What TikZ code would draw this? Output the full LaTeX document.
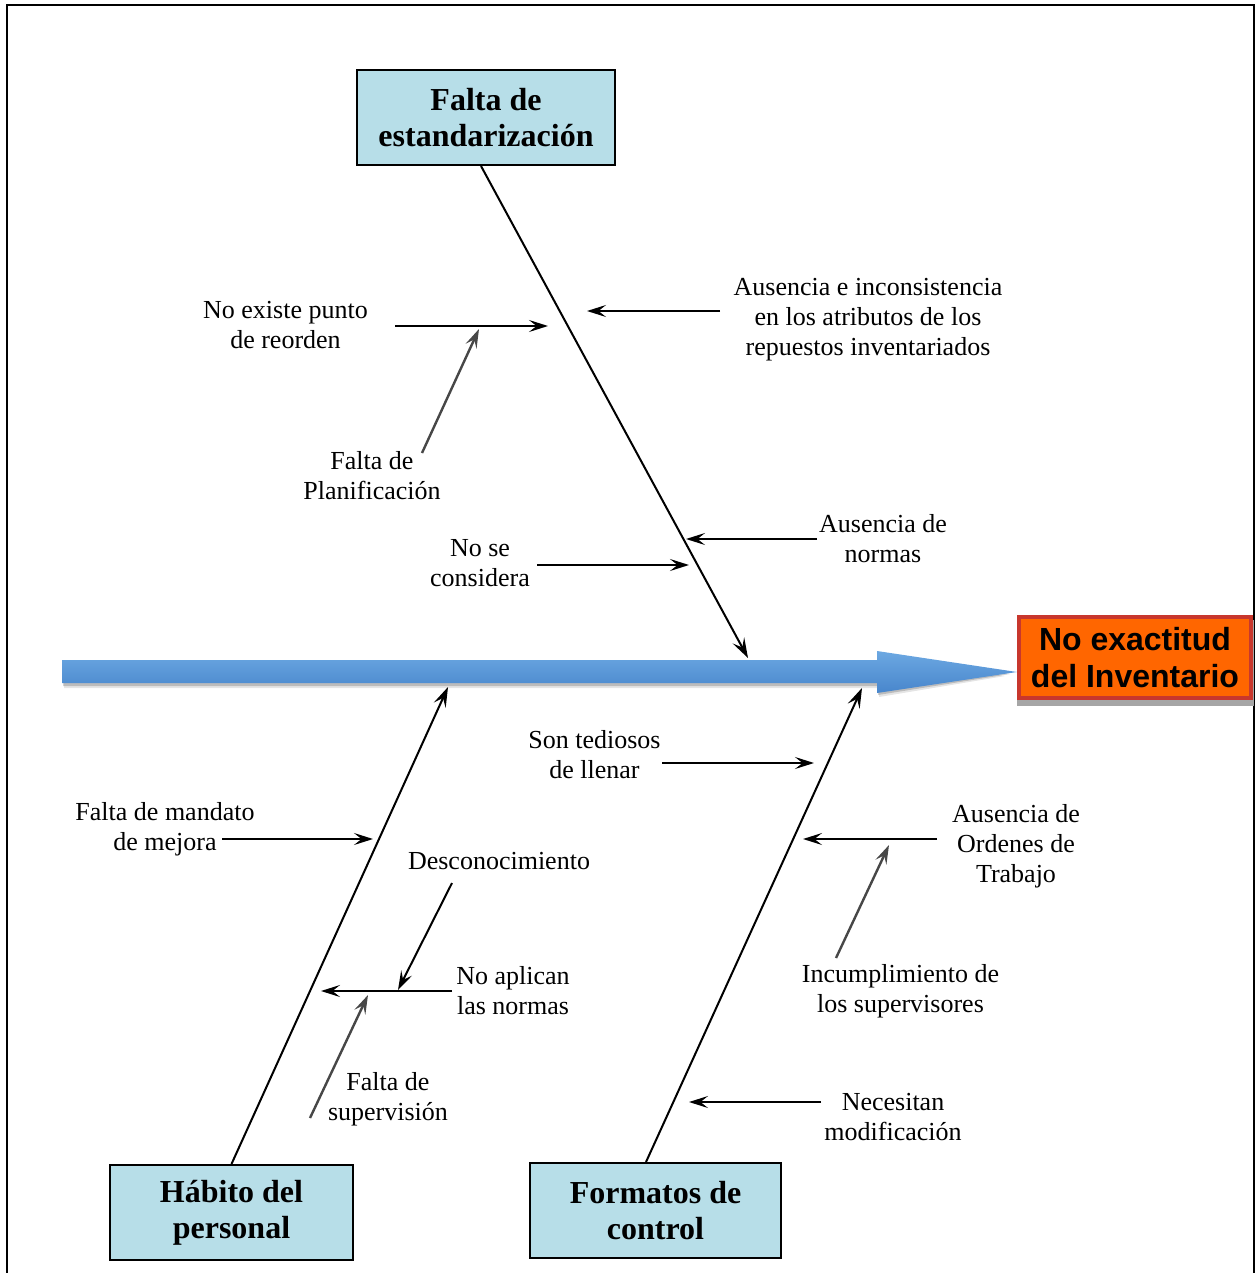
\documentclass[tikz,border=0pt]{standalone}
\usepackage{fontspec}
\setmainfont{Liberation Serif}
\newfontfamily\headsans{Liberation Sans}
\usetikzlibrary{arrows.meta}

\definecolor{causefill}{RGB}{183,222,232}
\definecolor{effectfill}{RGB}{255,102,0}
\definecolor{effectline}{RGB}{200,55,45}
\definecolor{spinetop}{RGB}{108,168,226}
\definecolor{spinebot}{RGB}{72,134,204}

\begin{document}
\begin{tikzpicture}[x=0.5pt,y=-0.5pt,
  cause/.style={draw=black,line width=1pt,fill=causefill,align=center,
    font=\bfseries\fontsize{16}{18}\selectfont,inner sep=0pt},
  effect/.style={draw=effectline,line width=2pt,fill=effectfill,align=center,
    font=\headsans\bfseries\fontsize{16}{18.5}\selectfont,inner sep=0pt},
  lbl/.style={align=center,font=\fontsize{13}{15}\selectfont,inner sep=0pt},
  bone/.style={line width=1pt,-{Stealth[length=10pt,width=6.5pt,inset=4pt]}},
  twig/.style={line width=1pt,-{Stealth[length=9.5pt,width=6pt,inset=3.8pt]}},
  soft/.style={twig,draw=black!72,line width=1.2pt},
]
\useasboundingbox (0,0) rectangle (1257,1273);

% page frame (open at the bottom)
\draw[line width=1.1pt] (7,1273) -- (7,5) -- (1254,5) -- (1254,1273);

% ---------- spine ----------
\fill[black,opacity=0.18] (63,663) -- (878,663) -- (878,654) -- (1010,674) -- (878,695) -- (878,686) -- (63,686) -- cycle;
\fill[black,opacity=0.10] (64,665) -- (879,665) -- (879,656) -- (1005,676) -- (879,697) -- (879,688) -- (64,688) -- cycle;
\shade[top color=spinetop,bottom color=spinebot]
  (62,660) -- (877,660) -- (877,651) -- (1017,672) -- (877,693) -- (877,683) -- (62,683) -- cycle;

% ---------- effect ----------
\fill[black!35] (1017,620) rectangle (1254,706);
\node[effect,minimum width=116pt,minimum height=40.5pt] (eff) at (1135,657.5)
  {No exactitud\\del Inventario};

% ---------- main causes ----------
\node[cause,minimum width=129pt,minimum height=47.5pt] (std) at (486,117.5)
  {Falta de\\estandarización};
\node[cause,minimum width=121.5pt,minimum height=47.5pt] (hab) at (231.5,1212.5)
  {Hábito del\\personal};
\node[cause,minimum width=125.5pt,minimum height=47.5pt] (fmt) at (655.5,1210.5)
  {Formatos de\\control};

\coordinate (stdtip) at (748,658);
\coordinate (habtip) at (448,687);
\coordinate (fmttip) at (862,688);

\draw[bone] ([xshift=-2.5pt]std.south) -- (stdtip);
\draw[bone] (hab.north) -- (habtip);
\draw[bone] ([xshift=-4.75pt]fmt.north) -- (fmttip);

% ---------- sub-causes: Falta de estandarización ----------
\node[lbl] (reord) at (285.5,325) {No existe punto\\de reorden};
\node[lbl] (plan) at (372,475.5) {Falta de\\Planificación};
\node[lbl] (attr) at (868,319.5) {Ausencia e inconsistencia\\en los atributos de los\\repuestos inventariados};
\node[lbl] (norm) at (883,539) {Ausencia de\\normas};
\node[lbl] (nocons) at (480,563) {No se\\considera};

\coordinate (reordA) at (395,326);  \coordinate (reordB) at (548,326);
\coordinate (planA) at (422,453);   \coordinate (planB) at (479,329);
\coordinate (attrA) at (720,311);   \coordinate (attrB) at (587,311);
\coordinate (normA) at (817,539);   \coordinate (normB) at (686,539);
\coordinate (nconsA) at (537,565);  \coordinate (nconsB) at (689,565);

\draw[twig] (reordA) -- (reordB);
\draw[soft] (planA) -- (planB);
\draw[twig] (attrA) -- (attrB);
\draw[twig] (normA) -- (normB);
\draw[twig] (nconsA) -- (nconsB);

% ---------- sub-causes: Hábito del personal ----------
\node[lbl] (mand) at (165,829) {Falta de mandato\\de mejora};
\node[lbl] (desc) at (499,861) {Desconocimiento};
\node[lbl] (noapl) at (513,991) {No aplican\\las normas};
\node[lbl] (superv) at (388,1099) {Falta de\\supervisión};

\coordinate (mandA) at (222,839);   \coordinate (mandB) at (373,839);
\coordinate (descA) at (452,883);   \coordinate (descB) at (398,990);
\coordinate (noaplA) at (452,991);  \coordinate (noaplB) at (321,991);
\coordinate (supA) at (310,1118);   \coordinate (supB) at (368,995);

\draw[twig] (mandA) -- (mandB);
\draw[twig] (descA) -- (descB);
\draw[twig] (noaplA) -- (noaplB);
\draw[soft] (supA) -- (supB);

% ---------- sub-causes: Formatos de control ----------
\node[lbl] (ted) at (594.5,755) {Son tediosos\\de llenar};
\node[lbl] (ord) at (1016,846) {Ausencia de\\Ordenes de\\Trabajo};
\node[lbl] (incum) at (900.5,991) {Incumplimiento de\\los supervisores};
\node[lbl] (modif) at (893,1117.5) {Necesitan\\modificación};

\coordinate (tedA) at (662,763);    \coordinate (tedB) at (814,763);
\coordinate (ordA) at (937,839);    \coordinate (ordB) at (803,839);
\coordinate (incA) at (836,958);    \coordinate (incB) at (889,845);
\coordinate (modA) at (821,1102);   \coordinate (modB) at (689,1102);

\draw[twig] (tedA) -- (tedB);
\draw[twig] (ordA) -- (ordB);
\draw[soft] (incA) -- (incB);
\draw[twig] (modA) -- (modB);
\end{tikzpicture}
\end{document}
